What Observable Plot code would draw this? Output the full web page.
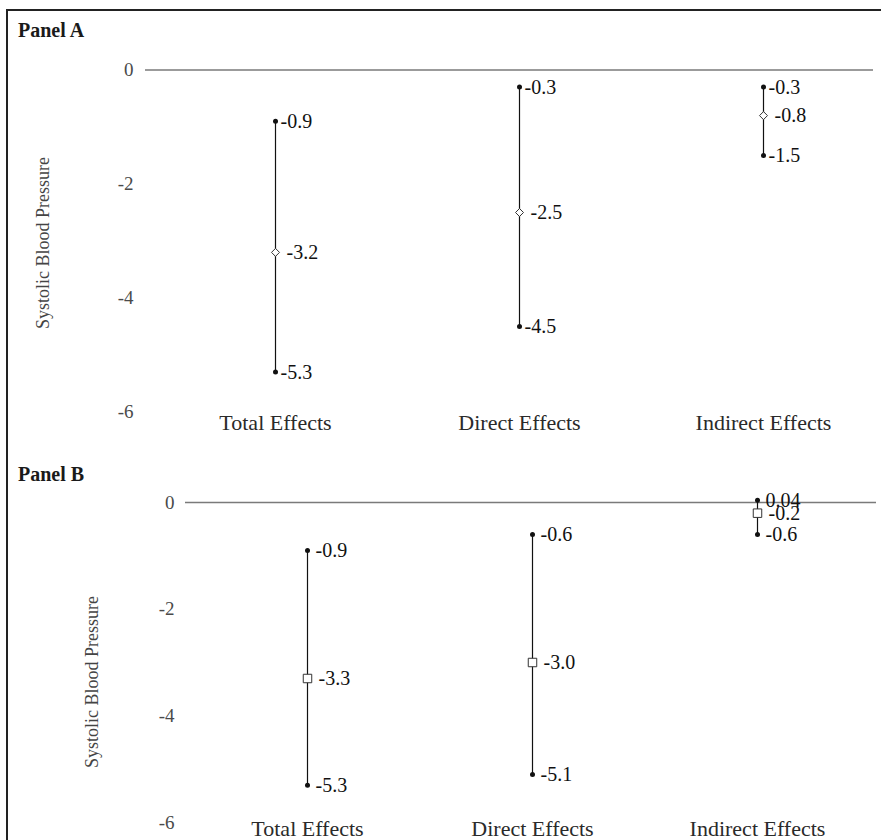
<!DOCTYPE html>
<html><head><meta charset="utf-8">
<script src="https://cdn.jsdelivr.net/npm/d3@7"></script>
<script src="https://cdn.jsdelivr.net/npm/@observablehq/plot@0.6"></script>
<style>
body{margin:0;background:#fff;}
#wrap{position:relative;width:881px;height:840px;overflow:hidden;font-family:"Liberation Serif","Times New Roman",serif;}
#frame{position:absolute;left:6px;top:9px;width:880px;height:840px;border-top:2px solid #222;border-left:2px solid #222;box-sizing:border-box;}
.ptitle{position:absolute;font-weight:bold;font-size:20px;color:#1a1a1a;line-height:1.15;}
.ytitle{position:absolute;font-size:18px;color:#444;transform:translate(-50%,-50%) rotate(-90deg);white-space:nowrap;}
.panel{position:absolute;left:0;}
</style></head>
<body><div id="wrap">
<div id="frame"></div>
<div class="panel" id="pa" style="top:0"></div>
<div class="panel" id="pb" style="top:440px"></div>
<div class="ptitle" style="left:18px;top:19px">Panel A</div>
<div class="ptitle" style="left:18px;top:463px">Panel B</div>
<div class="ytitle" style="left:43px;top:243px">Systolic Blood Pressure</div>
<div class="ytitle" style="left:92px;top:682px">Systolic Blood Pressure</div>
</div>
<script>
const categories = ["Total Effects", "Direct Effects", "Indirect Effects"];
const yTicks = [0, -2, -4, -6];

// Panel A
const aEstimate = [-3.2, -2.5, -0.8];
const aLower = [-5.3, -4.5, -1.5];
const aUpper = [-0.9, -0.3, -0.3];
const aEstimateLabels = ["-3.2", "-2.5", "-0.8"];
const aLowerLabels = ["-5.3", "-4.5", "-1.5"];
const aUpperLabels = ["-0.9", "-0.3", "-0.3"];

// Panel B
const bEstimate = [-3.3, -3.0, -0.2];
const bLower = [-5.3, -5.1, -0.6];
const bUpper = [-0.9, -0.6, 0.04];
const bEstimateLabels = ["-3.3", "-3.0", "-0.2"];
const bLowerLabels = ["-5.3", "-5.1", "-0.6"];
const bUpperLabels = ["-0.9", "-0.6", "0.04"];

function rowsOf(est, lo, hi, estL, loL, hiL) {
  return categories.map((c, i) => ({cat: c, est: est[i], lo: lo[i], hi: hi[i], estL: estL[i], loL: loL[i], hiL: hiL[i]}));
}

function panel(rows, o) {
  const ends = rows.flatMap(d => [{cat: d.cat, v: d.lo, label: d.loL}, {cat: d.cat, v: d.hi, label: d.hiL}]);
  return Plot.plot({
    width: 881, height: o.height,
    marginLeft: o.ml, marginRight: o.mr, marginTop: 0, marginBottom: o.mb,
    style: {fontFamily: "Liberation Serif, Times New Roman, serif", fontSize: "20px", background: "transparent", overflow: "visible"},
    x: {type: "point", domain: categories, range: o.xRange, padding: 0, label: null},
    y: {domain: [-6, 0], range: o.yRange, label: null},
    marks: [
      Plot.ruleY([0], {stroke: "#7a7a7a", strokeWidth: 1.5}),
      Plot.axisY({ticks: yTicks, tickSize: 0, tickPadding: o.tp, tickFormat: d => String(d), fill: "#4a4a4a", label: null, fontSize: 19}),
      Plot.axisX({tickSize: 0, tickPadding: 2, label: null, fill: "#2a2a2a", fontSize: 22}),
      Plot.ruleX(rows, {x: "cat", y1: "lo", y2: "hi", stroke: "#111", strokeWidth: 1.2}),
      Plot.dot(ends, {x: "cat", y: "v", r: 2.5, fill: "#111"}),
      Plot.dot(rows, {x: "cat", y: "est", symbol: o.symbol, r: o.r, fill: "white", stroke: "#333", strokeWidth: 1}),
      Plot.text(ends, {x: "cat", y: "v", text: "label", textAnchor: "start", dx: o.dxEnd, fill: "#111", fontSize: 20}),
      Plot.text(rows, {x: "cat", y: "est", text: "estL", textAnchor: "start", dx: 11, fill: "#111", fontSize: 20})
    ]
  });
}

document.getElementById("pa").appendChild(panel(
  rowsOf(aEstimate, aLower, aUpper, aEstimateLabels, aLowerLabels, aUpperLabels),
  {height: 440, ml: 145, mr: 8, mb: 28.5, tp: 12, xRange: [275, 763], yRange: [411.5, 69.5], symbol: "diamond2", r: 3.6, dxEnd: 5}
));
document.getElementById("pb").appendChild(panel(
  rowsOf(bEstimate, bLower, bUpper, bEstimateLabels, bLowerLabels, bUpperLabels),
  {height: 400, ml: 185, mr: 5, mb: 22.5, tp: 11, xRange: [306, 757], yRange: [382, 62], symbol: "square2", r: 5.4, dxEnd: 8}
));
</script>
</body></html>
